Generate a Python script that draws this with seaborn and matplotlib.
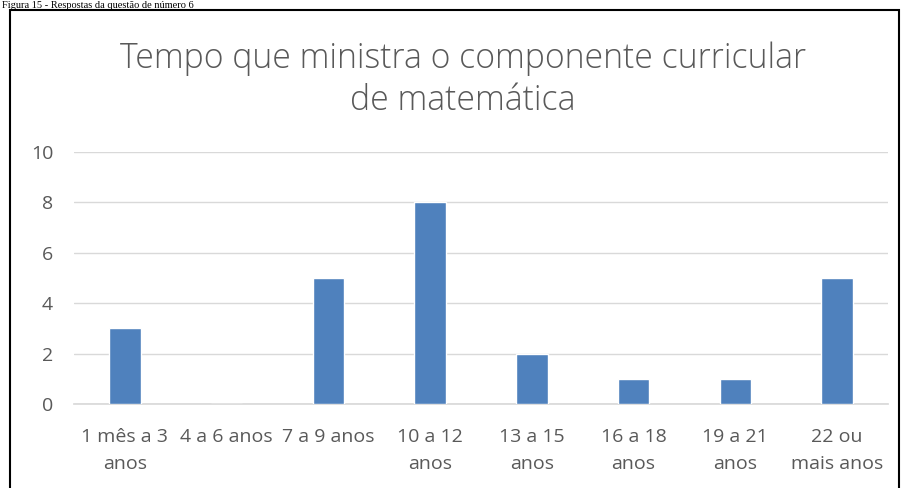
import matplotlib
matplotlib.use("Agg")
import matplotlib.pyplot as plt
from matplotlib.patches import Rectangle
import seaborn as sns
import pandas as pd

categories = ["1 mês a 3\nanos", "4 a 6 anos", "7 a 9 anos", "10 a 12\nanos",
              "13 a 15\nanos", "16 a 18\nanos", "19 a 21\nanos", "22 ou\nmais anos"]
values = [3, 0, 5, 8, 2, 1, 1, 5]
yticks = [0, 2, 4, 6, 8, 10]
title = "Tempo que ministra o componente curricular\nde matemática"
caption = "Figura 15 - Respostas da questão de número 6"

sns.set_theme(style="white")
plt.rcParams['font.family'] = ['Open Sans', 'DejaVu Sans']

fig = plt.figure(figsize=(9.04, 4.88), dpi=100)
ax = fig.add_axes([74/904, 1 - 404/488, (888-74)/904, (404-152)/488])

df = pd.DataFrame({"cat": categories, "val": values})
sns.barplot(data=df, x="cat", y="val", color="#4F81BD", width=0.31,
            saturation=1, ax=ax, zorder=3)

ax.set_ylim(0, 10)
ax.set_yticks(yticks)
ax.set_xlim(-0.5, len(categories) - 0.5)
ax.yaxis.grid(True, color="#D9D9D9", linewidth=1, zorder=0)
ax.set_axisbelow(True)
for s in ["top", "right", "left"]:
    ax.spines[s].set_visible(False)
ax.spines["bottom"].set_color("#D9D9D9")
ax.set_xlabel("")
ax.set_ylabel("")
ax.tick_params(axis="both", length=0, labelsize=14, labelcolor="#595959")
ax.tick_params(axis="x", pad=17)
ax.tick_params(axis="y", pad=15)
for lbl in ax.get_xticklabels():
    lbl.set_linespacing(1.7)

fig.text(463/904, 1 - 80/488, title, ha="center", va="center", fontsize=24.3,
         color="#595959", linespacing=1.3, fontweight="light")

fig.patches.append(Rectangle((10/904, -0.05), (899-10)/904, 1 - 10/488 + 0.05,
                             transform=fig.transFigure, fill=False,
                             edgecolor="black", linewidth=1.5))
fig.text(2/904, 1 - 0.5/488, caption, ha="left", va="top", fontsize=7.5,
         family=["Liberation Serif", "DejaVu Serif"], color="black")

fig.savefig("out.png", dpi=100)
